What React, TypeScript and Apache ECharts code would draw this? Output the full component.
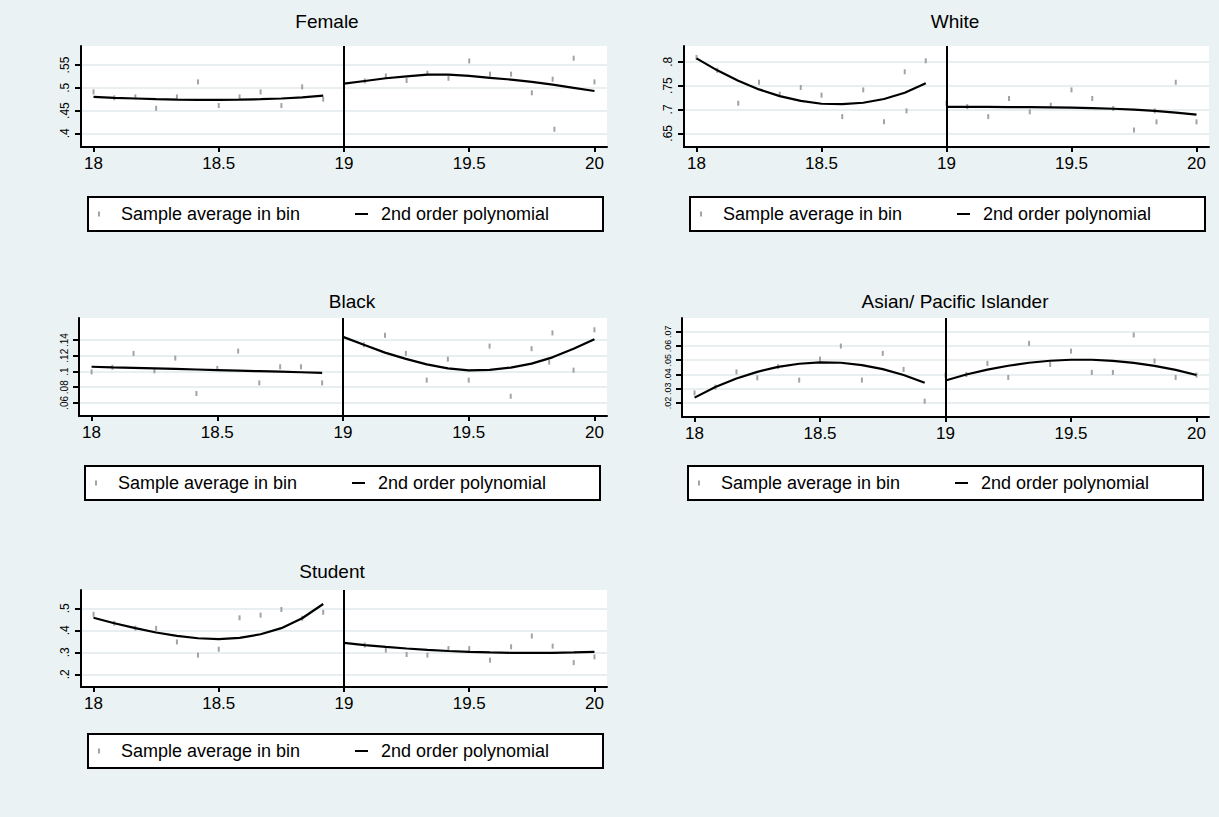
import React, { useEffect, useRef } from "react";
import * as echarts from "echarts";

// ---- data ----
const leftAges = [18, 18.083, 18.167, 18.25, 18.333, 18.417, 18.5, 18.583, 18.667, 18.75, 18.833, 18.917];
const rightAges = [19, 19.083, 19.167, 19.25, 19.333, 19.417, 19.5, 19.583, 19.667, 19.75, 19.833, 19.917, 20];
const xTicks = [18, 18.5, 19, 19.5, 20];
const cutoff = 19;

const femaleLeftAvg = [0.491, 0.478, 0.48, 0.455, 0.48, 0.513, 0.461, 0.48, 0.491, 0.461, 0.502, 0.475];
const femaleRightAvg = [0.508, 0.515, 0.526, 0.516, 0.532, 0.521, 0.559, 0.53, 0.53, 0.489, 0.519, 0.565, 0.513];
const femaleExtra = [[19.84, 0.409]];
const femaleLeftFit = [0.48, 0.478, 0.4765, 0.475, 0.474, 0.4735, 0.4735, 0.474, 0.475, 0.4765, 0.479, 0.483];
const femaleRightFit = [0.509, 0.515, 0.521, 0.525, 0.529, 0.529, 0.526, 0.522, 0.518, 0.513, 0.507, 0.5, 0.493];
const femaleTicks = [0.4, 0.45, 0.5, 0.55];

const whiteLeftAvg = [0.809, 0.782, 0.713, 0.757, 0.732, 0.746, 0.73, 0.685, 0.741, 0.674, 0.779, 0.802];
const whiteRightAvg = [0.713, 0.706, 0.685, 0.723, 0.695, 0.709, 0.741, 0.723, 0.702, 0.657, 0.697, 0.757, 0.674];
const whiteExtra = [[18.84, 0.697], [19.84, 0.674]];
const whiteLeftFit = [0.807, 0.782, 0.76, 0.742, 0.728, 0.718, 0.712, 0.711, 0.714, 0.722, 0.735, 0.755];
const whiteRightFit = [0.7055, 0.7055, 0.7053, 0.705, 0.7047, 0.7043, 0.7037, 0.7028, 0.7015, 0.6995, 0.697, 0.6935, 0.689];
const whiteTicks = [0.65, 0.7, 0.75, 0.8];

const blackLeftAvg = [0.0995, 0.1053, 0.123, 0.1008, 0.117, 0.072, 0.104, 0.126, 0.0855, 0.106, 0.106, 0.0855];
const blackRightAvg = [0.1358, 0.134, 0.146, 0.123, 0.089, 0.1157, 0.089, 0.1323, 0.0685, 0.129, 0.149, 0.1017, 0.153];
const blackExtra = [[19.82, 0.112]];
const blackLeftFit = [0.106, 0.1053, 0.1046, 0.1039, 0.1032, 0.1025, 0.1018, 0.1011, 0.1004, 0.0997, 0.099, 0.0983];
const blackRightFit = [0.144, 0.134, 0.124, 0.116, 0.109, 0.104, 0.1015, 0.102, 0.105, 0.11, 0.118, 0.129, 0.141];
const blackTicks = [0.06, 0.08, 0.1, 0.12, 0.14];

const asianLeftAvg = [0.027, 0.0311, 0.0418, 0.0376, 0.0454, 0.036, 0.0508, 0.0599, 0.036, 0.0548, 0.0435, 0.0212];
const asianRightAvg = [0.0395, 0.0399, 0.0477, 0.0379, 0.0618, 0.047, 0.0564, 0.0414, 0.0414, 0.0677, 0.0494, 0.0379, 0.0395];
const asianExtra: number[][] = [];
const asianLeftFit = [0.0237, 0.0311, 0.0371, 0.0418, 0.0453, 0.0475, 0.0485, 0.0482, 0.0465, 0.0437, 0.0396, 0.0342];
const asianRightFit = [0.0357, 0.0399, 0.0434, 0.0461, 0.0482, 0.0496, 0.0503, 0.0503, 0.0495, 0.0481, 0.046, 0.0432, 0.0396];
const asianTicks = [0.02, 0.03, 0.04, 0.05, 0.06, 0.07];

const studentLeftAvg = [0.473, 0.432, 0.41, 0.409, 0.347, 0.287, 0.314, 0.457, 0.469, 0.495, 0.455, 0.482];
const studentRightAvg = [0.396, 0.333, 0.31, 0.29, 0.287, 0.317, 0.317, 0.264, 0.325, 0.374, 0.328, 0.253, 0.279];
const studentExtra: number[][] = [];
const studentLeftFit = [0.457, 0.432, 0.41, 0.39, 0.375, 0.364, 0.36, 0.366, 0.382, 0.41, 0.455, 0.52];
const studentRightFit = [0.3426, 0.333, 0.3245, 0.3173, 0.3111, 0.306, 0.3021, 0.2993, 0.2976, 0.297, 0.2976, 0.2993, 0.3021];
const studentTicks = [0.2, 0.3, 0.4, 0.5];

const titles = ["Female", "White", "Black", "Asian/ Pacific Islander", "Student"];
const legendNames = ["Sample average in bin", "2nd order polynomial"];

// ---- layout (positions & styles only) ----
const FONT = "'Liberation Sans', Arial, sans-serif";
const panels = [
  { title: titles[0], tx: 327, ty: 10, grid: { left: 81, top: 46, width: 526, height: 101 }, y: [0.37, 0.5918], ticks: femaleTicks, yfs: 12,
    la: femaleLeftAvg, ra: femaleRightAvg, ex: femaleExtra, lf: femaleLeftFit, rf: femaleRightFit, lg: { left: 88, top: 197 } },
  { title: titles[1], tx: 955, ty: 10, grid: { left: 684, top: 46, width: 525, height: 101 }, y: [0.6213, 0.833], ticks: whiteTicks, yfs: 12,
    la: whiteLeftAvg, ra: whiteRightAvg, ex: whiteExtra, lf: whiteLeftFit, rf: whiteRightFit, lg: { left: 690, top: 197 } },
  { title: titles[2], tx: 352, ty: 290, grid: { left: 79, top: 318, width: 528, height: 98 }, y: [0.0434, 0.168], ticks: blackTicks, yfs: 10,
    la: blackLeftAvg, ra: blackRightAvg, ex: blackExtra, lf: blackLeftFit, rf: blackRightFit, lg: { left: 85, top: 466 } },
  { title: titles[3], tx: 955, ty: 290, grid: { left: 682, top: 318, width: 527, height: 99 }, y: [0.0101, 0.0796], ticks: asianTicks, yfs: 9,
    la: asianLeftAvg, ra: asianRightAvg, ex: asianExtra, lf: asianLeftFit, rf: asianRightFit, lg: { left: 688, top: 466 } },
  { title: titles[4], tx: 332, ty: 560, grid: { left: 81, top: 590, width: 526, height: 97 }, y: [0.142, 0.5836], ticks: studentTicks, yfs: 12,
    la: studentLeftAvg, ra: studentRightAvg, ex: studentExtra, lf: studentLeftFit, rf: studentRightFit, lg: { left: 88, top: 734 } },
];

const dashIcon = "path://M0,0 M22,14 M4,4.5 L6,4.5 L6,9.5 L4,9.5 Z";
const lineIcon = "path://M0,0 M22,14 M1,6 L14,6 L14,8 L1,8 Z";

const fmtY = (v: number) => String(v).replace(/^0\./, ".");

function buildOption() {
  const title: any[] = [];
  const grid: any[] = [];
  const xAxis: any[] = [];
  const yAxis: any[] = [];
  const series: any[] = [];
  const legend: any[] = [];

  panels.forEach((p, i) => {
    title.push({
      text: p.title, left: p.tx, top: p.ty, textAlign: "center", padding: 0,
      textStyle: { fontFamily: FONT, fontSize: 19, fontWeight: "normal", color: "#000", lineHeight: 22 },
    });
    grid.push({ ...p.grid, show: true, backgroundColor: "#ffffff", borderWidth: 0 });
    xAxis.push({
      type: "value", gridIndex: i, min: 17.95, max: 20.05,
      axisLine: { show: true, onZero: false, lineStyle: { color: "#000", width: 2 } },
      axisTick: { show: true, customValues: xTicks, length: 5, lineStyle: { color: "#000", width: 2 } },
      axisLabel: { customValues: xTicks, interval: 0, showMinLabel: true, showMaxLabel: true, fontFamily: FONT, fontSize: 17, color: "#000", margin: 8, formatter: (v: number) => String(v) },
      splitLine: { show: false },
    });
    yAxis.push({
      type: "value", gridIndex: i, min: p.y[0], max: p.y[1],
      axisLine: { show: true, onZero: false, lineStyle: { color: "#000", width: 2 } },
      axisTick: { show: true, customValues: p.ticks, length: 6, lineStyle: { color: "#000", width: 2 } },
      axisLabel: { customValues: p.ticks, interval: 0, showMinLabel: true, showMaxLabel: true, hideOverlap: false, rotate: 90, fontFamily: FONT, fontSize: p.yfs, color: "#000", margin: 10, formatter: fmtY },
      splitLine: { show: true, lineStyle: { color: "#e2eaed", width: 1.5 } },
    });
    const pts: number[][] = [];
    leftAges.forEach((a, k) => pts.push([a, p.la[k]]));
    rightAges.forEach((a, k) => pts.push([a, p.ra[k]]));
    p.ex.forEach((e) => pts.push(e));
    series.push({
      type: "scatter", name: legendNames[0], xAxisIndex: i, yAxisIndex: i, data: pts,
      symbol: "rect", symbolSize: [2, 5], itemStyle: { color: "#8c8c8c" }, silent: true,
    });
    series.push({
      type: "line", name: legendNames[1], xAxisIndex: i, yAxisIndex: i,
      data: leftAges.map((a, k) => [a, p.lf[k]]), symbol: "none", showSymbol: false,
      lineStyle: { color: "#000", width: 2.2 }, itemStyle: { color: "#000" }, silent: true,
      markLine: {
        silent: true, symbol: ["none", "none"], label: { show: false },
        lineStyle: { color: "#000", width: 2, type: "solid" }, data: [{ xAxis: cutoff }],
      },
    });
    series.push({
      type: "line", name: legendNames[1], xAxisIndex: i, yAxisIndex: i,
      data: rightAges.map((a, k) => [a, p.rf[k]]), symbol: "none", showSymbol: false,
      lineStyle: { color: "#000", width: 2.2 }, itemStyle: { color: "#000" }, silent: true,
    });
    legend.push({
      left: p.lg.left, top: p.lg.top, orient: "horizontal", selectedMode: false,
      itemWidth: 22, itemHeight: 14, itemGap: 33, padding: [7, 22, 7, 6],
      borderColor: "#000", borderWidth: 2, backgroundColor: "#fff",
      textStyle: { fontFamily: FONT, fontSize: 18, color: "#000", width: 200, lineHeight: 20 },
      data: [{ name: legendNames[0], icon: dashIcon }, { name: legendNames[1], icon: lineIcon }],
    });
  });

  return { animation: false, backgroundColor: "#eaf2f3", title, grid, xAxis, yAxis, series, legend };
}

export default function App() {
  const ref = useRef<HTMLDivElement>(null);
  useEffect(() => {
    document.body.style.margin = "0";
    const chart = echarts.init(ref.current!, undefined, { renderer: "svg" });
    chart.setOption(buildOption() as any);
    return () => chart.dispose();
  }, []);
  return <div ref={ref} style={{ width: 1219, height: 817 }} />;
}
